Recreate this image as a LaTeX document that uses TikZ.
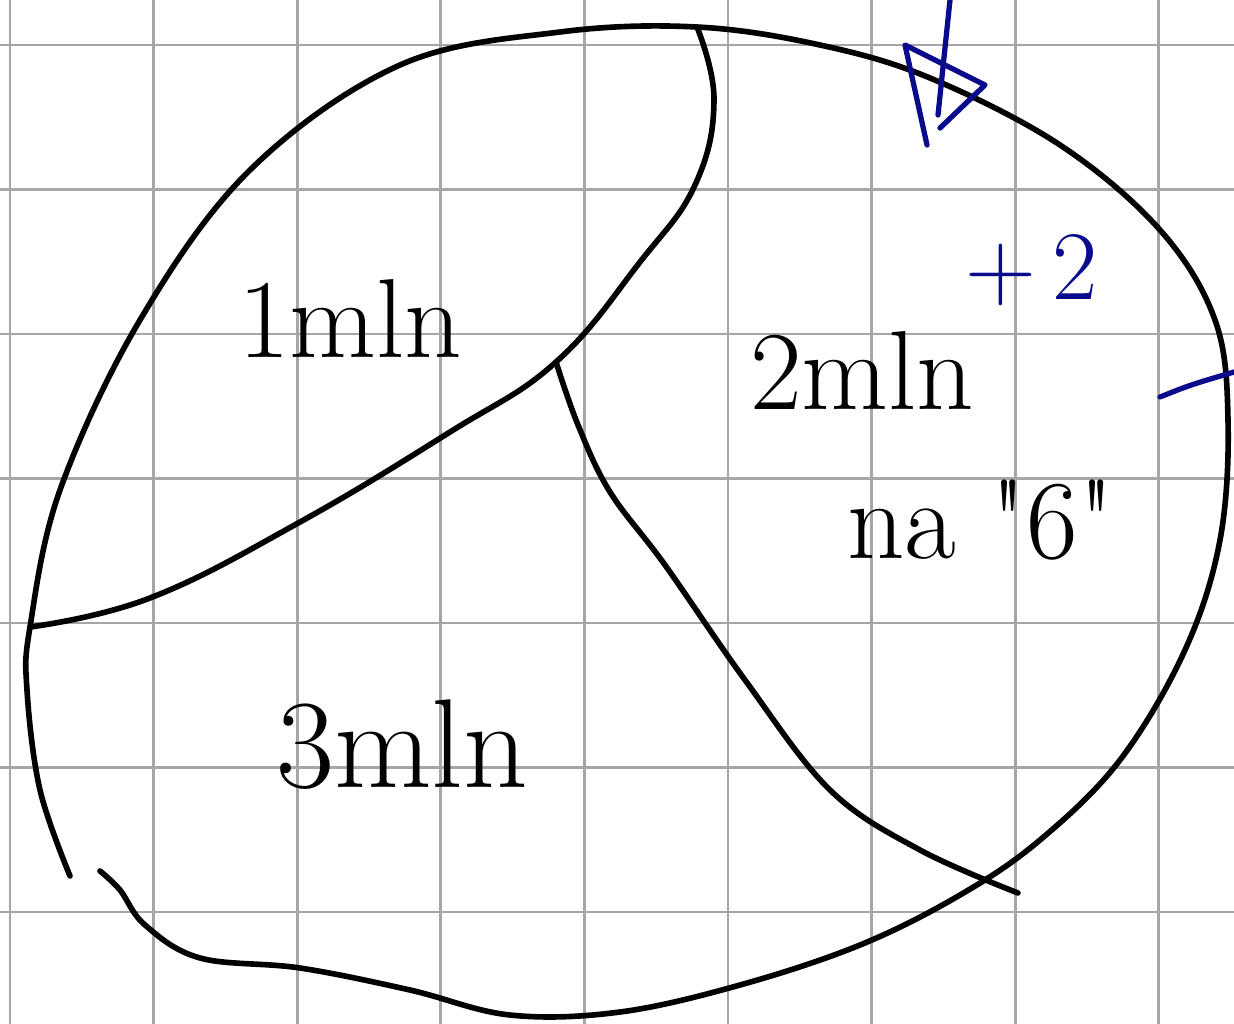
\documentclass[tikz,border=0pt]{standalone}
\usepackage{fontspec}
\usetikzlibrary{positioning}
\definecolor{inkblue}{RGB}{10,10,140}

\begin{document}
\begin{tikzpicture}[x=0.02cm,y=-0.02cm,line cap=round,line join=round]
  \tikzstyle{grid}=[draw=black!35,line width=1.6pt]
  \tikzstyle{ink}=[draw=black,line width=3.2pt]
  \tikzstyle{blueink}=[draw=inkblue,line width=3pt]
  \tikzstyle{word}=[font=\fontsize{64}{64}\selectfont,inner sep=0pt]
  \useasboundingbox[fill=white] (0,0) rectangle (1234,1024);
  % squared paper
  \foreach \gx in {0,...,8} \draw[grid] (10+143.6*\gx,0) -- (10+143.6*\gx,1024);
  \foreach \gy in {0,...,6} \draw[grid] (0,45+144.5*\gy) -- (1234,45+144.5*\gy);
  % outline of the region
  \coordinate (left) at (30,627);
  \coordinate (top) at (697,27);
  \coordinate (fork) at (556,362);
  \coordinate (bottom) at (1018,893);
  \draw[ink] plot[smooth,tension=0.6] coordinates {(70,876) (40,790) (27,690) (left) (60,490) (140,320) (250,170) (400,65) (560,32) (top) (820,45) (930,78) (1060,145) (1160,230) (1215,320) (1228,420) (1220,540) (1185,650) (1120,760) (1040,840) (960,895) (860,945) (740,985) (620,1012) (510,1015) (410,990) (300,968) (200,958) (145,925) (120,890) (100,871)};
  % inner borders
  \draw[ink] plot[smooth,tension=0.7] coordinates {(top) (714,100) (695,185) (640,262) (fork) (450,432) (300,522) (150,598) (left)};
  \draw[ink] plot[smooth,tension=0.6] coordinates {(fork) (578,425) (610,492) (665,565) (745,680) (830,790) (920,850) (bottom)};
  % labels
  \node[word] (one) at (350,318) {1mln};
  \node[word] (two) at (862,370) {2mln};
  \node[word,below right=1.4cm and -2.55cm of two] (six) {na \textquotedbl 6\textquotedbl};
  \node[word,font=\fontsize{72}{72}\selectfont] (three) at (402,745) {3mln};
  % blue marks
  \node[word,text=inkblue,font=\fontsize{56}{56}\selectfont] (plus) at (1032,270) {+\,2};
  \coordinate (flagtop) at (950,0);
  \coordinate (flagfoot) at (938,115);
  \draw[blueink] (flagtop) -- (flagfoot);
  \draw[blueink] (927,145) -- (905,45) -- (985,85) -- (940,128);
  \draw[blueink] (1160,397) .. controls (1190,385) .. (1234,372);
\end{tikzpicture}
\end{document}
